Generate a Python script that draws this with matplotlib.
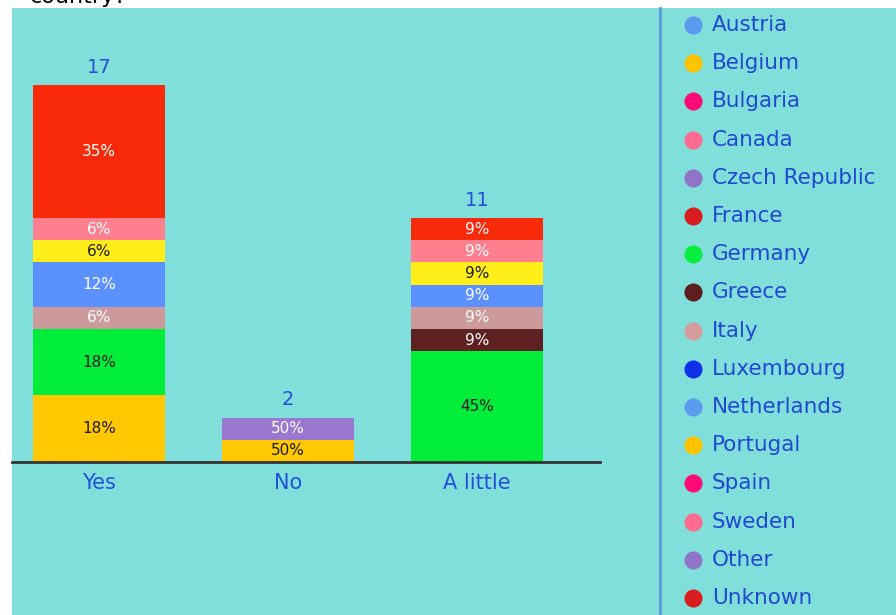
import matplotlib.pyplot as plt
from matplotlib.patches import Rectangle
from matplotlib.lines import Line2D

# data (bottom segment first)
categories = ['Yes', 'No', 'A little']
yes_countries = ['Portugal', 'Germany', 'Italy', 'Netherlands', 'Belgium', 'Sweden', 'France']
yes_counts = [3, 3, 1, 2, 1, 1, 6]
no_countries = ['Portugal', 'Czech Republic']
no_counts = [1, 1]
little_countries = ['Germany', 'Greece', 'Italy', 'Netherlands', 'Belgium', 'Sweden', 'France']
little_counts = [5, 1, 1, 1, 1, 1, 1]

legend_names = ['Austria', 'Belgium', 'Bulgaria', 'Canada', 'Czech Republic', 'France',
                'Germany', 'Greece', 'Italy', 'Luxembourg', 'Netherlands', 'Portugal',
                'Spain', 'Sweden', 'Other', 'Unknown']

# styles
bg = '#80DFDA'
blue_txt = '#2450D8'
bar_colors = {'Portugal': '#FFC800', 'Germany': '#00EE3A', 'Italy': '#CC9A9A',
              'Netherlands': '#5B91FF', 'Belgium': '#FFEE1A', 'Sweden': '#FF7F8F',
              'France': '#F82A0A', 'Greece': '#5E2020', 'Czech Republic': '#9B78CF'}
dark_text = {'Portugal', 'Germany', 'Belgium'}
legend_colors = ['#5B9BEF', '#FFC400', '#FF0A78', '#FF6A90', '#8F74C8', '#D81F1F',
                 '#0AEE40', '#5E1E1E', '#D49C9C', '#1030E8', '#5B9BEF', '#FFC400',
                 '#FF0A78', '#FF6A90', '#8F74C8', '#D81F1F']

W, H = 896, 615
fig = plt.figure(figsize=(W / 100, H / 100), dpi=100)
fig.patch.set_facecolor('white')
fig.patches.append(Rectangle((12 / W, 0), 1 - 12 / W, (H - 8) / H, transform=fig.transFigure,
                             facecolor=bg, edgecolor='none', zorder=-5))
# cropped question title at the very top
fig.text(30 / W, 1 - 3 / H, 'country?', fontsize=16, color='black', va='baseline')

# main bar axes: left at x=12px, right at 600px, baseline at y=462px
ax = fig.add_axes([12 / W, (H - 462) / H, (600 - 12) / W, (462 - 8) / H])
ax.set_facecolor('none')
ax.set_xlim(-0.460, 2.651)
ax.set_ylim(0, 20.47)

stacks = [(yes_countries, yes_counts), (no_countries, no_counts), (little_countries, little_counts)]
for i, (names, counts) in enumerate(stacks):
    total = sum(counts)
    bottom = 0
    for name, c in zip(names, counts):
        ax.bar(i, c, bottom=bottom, width=0.698, color=bar_colors[name], linewidth=0)
        tc = '#1a1a1a' if name in dark_text else 'white'
        ax.text(i, bottom + c / 2, '%d%%' % round(100 * c / total), ha='center', va='center',
                fontsize=11, color=tc)
        bottom += c
    ax.text(i, total + 0.8, str(total), ha='center', va='center', fontsize=14, color=blue_txt)

ax.set_xticks(range(len(categories)))
ax.set_xticklabels(categories, fontsize=15, color=blue_txt)
ax.tick_params(axis='x', length=0, pad=8)
ax.set_yticks([])
for s in ['top', 'right', 'left']:
    ax.spines[s].set_visible(False)
ax.spines['bottom'].set_color('#333333')
ax.spines['bottom'].set_linewidth(2)

# legend separator
fig.add_artist(Line2D([660 / W, 660 / W], [0, (H - 8) / H], transform=fig.transFigure,
                      color='#5B9BDB', linewidth=2))

# legend, rows from y=25px to y=598px
lax = fig.add_axes([660 / W, 0, (W - 660) / W, 1])
lax.set_facecolor('none')
lax.set_xlim(0, 1)
lax.set_ylim((H - 25) / 38.2, -25 / 38.2)
lax.axis('off')
for k, (name, col) in enumerate(zip(legend_names, legend_colors)):
    lax.scatter(33 / (W - 660), k, s=170, color=col, linewidths=0, clip_on=False)
    lax.text(52 / (W - 660), k, name, fontsize=15.5, color='#2247D0', va='center', ha='left')

fig.savefig('out.png', dpi=100)
